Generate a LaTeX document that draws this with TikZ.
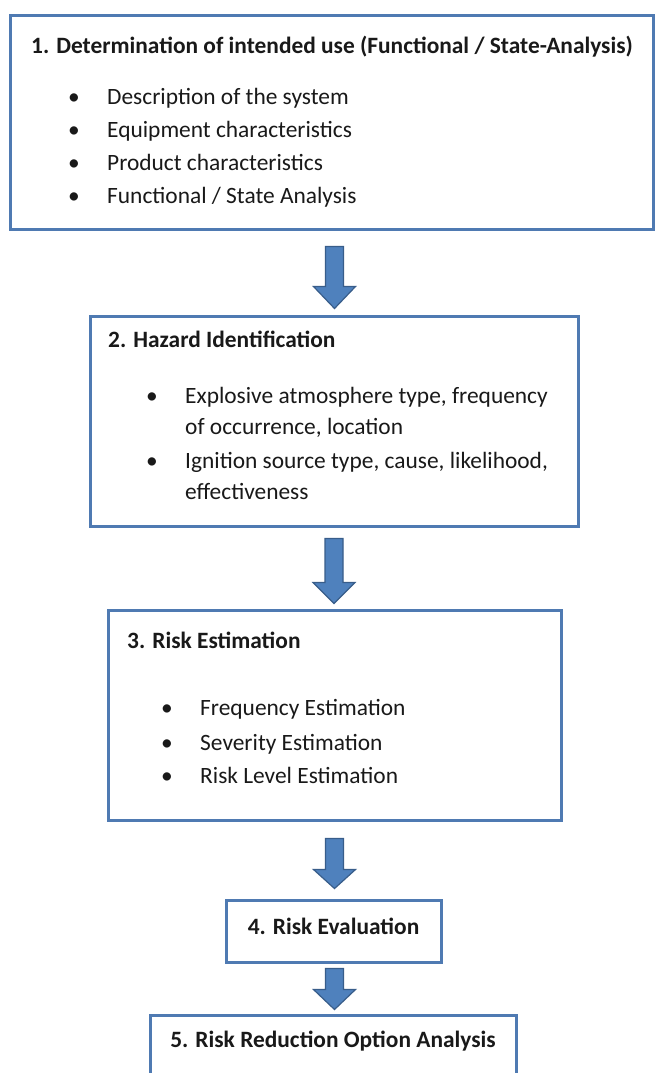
\documentclass[tikz,border=0pt]{standalone}
\usepackage{fontspec}
\setmainfont{Carlito}
\usetikzlibrary{calc}

\definecolor{boxline}{RGB}{79,122,178}
\definecolor{arrowfill}{RGB}{79,129,189}
\definecolor{arrowline}{RGB}{56,93,138}
\definecolor{ink}{RGB}{25,25,25}

\tikzset{
  box/.style={draw=boxline, line width=3pt, fill=white, rectangle, inner sep=0pt},
  heading/.style={anchor=base west, inner sep=0pt, text=ink, font=\fontsize{23.4}{28}\selectfont\bfseries},
  item/.style={anchor=base west, inner sep=0pt, text=ink, font=\fontsize{23.4}{28}\selectfont},
  dot/.style={anchor=base west, inner sep=0pt, text=ink, font=\fontsize{23.4}{28}\selectfont},
  blockarrow/.style={fill=arrowfill, draw=arrowline, line width=1.2pt, line join=miter},
}

% block arrow: #1 top point, #2 total length, #3 head length
\newcommand\flowarrow[3]{%
  \draw[blockarrow] ($(#1)+(-9,0)$) -- ++(0,#2-#3) -- ++(-12,0) -- ++(21,#3)
    -- ++(21,-#3) -- ++(-12,0) -- ++(0,-#2+#3) -- cycle;}

\begin{document}
\begin{tikzpicture}[x=1pt, y=-1pt]
\useasboundingbox[fill=white] (0,0) rectangle (655,1073);

% ---- boxes ----
\node[box, minimum width=643, minimum height=213] (b1) at (331.5,122.5) {};
\node[box, minimum width=488, minimum height=210] (b2) at (334,421) {};
\node[box, minimum width=453, minimum height=210] (b3) at (334.5,715) {};
\node[box, minimum width=215, minimum height=62]  (b4) at (333.5,931) {};
\node[box, minimum width=366, minimum height=80]  (b5) at (333,1055) {};

% ---- box 1 ----
\node[heading] (h1) at (31,54) {1. Determination of intended use (Functional / State-Analysis)};
\node[dot] (d11) at (68,104) {\textbullet};
\node[item] (i11) at (107,104) {Description of the system};
\node[dot] (d12) at (68,137) {\textbullet};
\node[item] (i12) at (107,137) {Equipment characteristics};
\node[dot] (d13) at (68,170) {\textbullet};
\node[item] (i13) at (107,170) {Product characteristics};
\node[dot] (d14) at (68,203) {\textbullet};
\node[item] (i14) at (107,203) {Functional / State Analysis};

% ---- box 2 ----
\node[heading] (h2) at (108,347) {2. Hazard Identification};
\node[dot] (d21) at (146,403) {\textbullet};
\node[item] (i21) at (185,403) {Explosive atmosphere type, frequency};
\node[item] (i22) at (185,434) {of occurrence, location};
\node[dot] (d23) at (146,468) {\textbullet};
\node[item] (i23) at (185,468) {Ignition source type, cause, likelihood,};
\node[item] (i24) at (185,499) {effectiveness};

% ---- box 3 ----
\node[heading] (h3) at (127,648) {3. Risk Estimation};
\node[dot] (d31) at (161,715) {\textbullet};
\node[item] (i31) at (200,715) {Frequency Estimation};
\node[dot] (d32) at (161,750) {\textbullet};
\node[item] (i32) at (200,750) {Severity Estimation};
\node[dot] (d33) at (161,783) {\textbullet};
\node[item] (i33) at (200,783) {Risk Level Estimation};

% ---- boxes 4 and 5 ----
\node[heading, anchor=base] (h4) at (333.5,934) {4. Risk Evaluation};
\node[heading, anchor=base] (h5) at (333,1047) {5. Risk Reduction Option Analysis};

% ---- connectors ----
\coordinate (a1) at ($(b1.south)+(3,16)$);
\coordinate (a2) at ($(b2.south)+(0,11)$);
\coordinate (a3) at ($(b3.south)+(0,17)$);
\coordinate (a4) at ($(b4.south)+(1,5)$);
\flowarrow{a1}{62}{22}
\flowarrow{a2}{65}{21}
\flowarrow{a3}{50}{19}
\flowarrow{a4}{41}{20}
\end{tikzpicture}
\end{document}
